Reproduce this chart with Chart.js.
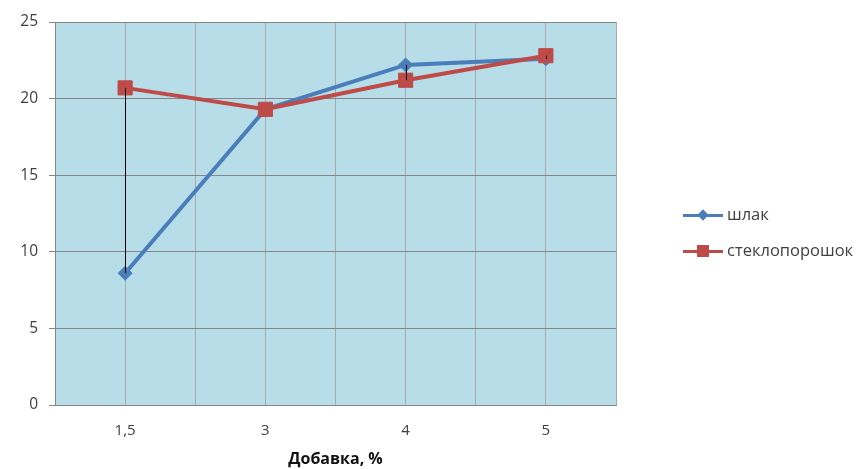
<!DOCTYPE html>
<html>
<head>
<meta charset="utf-8">
<script src="https://cdn.jsdelivr.net/npm/chart.js@4/dist/chart.umd.min.js"></script>
<style>
  html, body { margin: 0; padding: 0; background: #fff; }
  #wrap { position: relative; width: 858px; height: 469px; }
  #chart { position: absolute; left: 0; top: 0; }
  .legend-item { position: absolute; left: 683px; height: 20px; font: 16.5px 'Open Sans', sans-serif; color: #404040; }
  .legend-line { position: absolute; left: 0; top: 9px; width: 40px; height: 3px; }
  .legend-mark { position: absolute; }
  .legend-text { position: absolute; left: 44px; top: -3px; white-space: nowrap; }
</style>
</head>
<body>
<div id="wrap">
  <canvas id="chart" width="858" height="469"></canvas>
  <div class="legend-item" style="top:205px">
    <div class="legend-line" style="background:#4a7ebb"></div>
    <div class="legend-mark" style="left:16px;top:6px;width:8px;height:8px;background:#4a7ebb;transform:rotate(45deg)"></div>
    <div class="legend-text">шлак</div>
  </div>
  <div class="legend-item" style="top:241px">
    <div class="legend-line" style="background:#be4b48"></div>
    <div class="legend-mark" style="left:14px;top:4px;width:12px;height:12px;background:#be4b48"></div>
    <div class="legend-text">стеклопорошок</div>
  </div>
</div>
<script>
// Additive content, %
const categories = ['1,5', '3', '4', '5'];
// Series values
const slag = [8.6, 19.3, 22.2, 22.6];
const glassPowder = [20.7, 19.3, 21.2, 22.8];
// Y-axis ticks
const yTicks = [0, 5, 10, 15, 20, 25];

// Each category sits in the middle of its own cell: 1, 3, 5, ...
const catPos = i => 2 * i + 1;
const toPoints = arr => arr.map((v, i) => ({ x: catPos(i), y: v }));

const plotBackground = {
  id: 'plotBackground',
  beforeDraw(chart) {
    const { ctx, chartArea: a } = chart;
    ctx.save();
    ctx.fillStyle = '#b7dde8';
    ctx.fillRect(a.left, a.top, a.right - a.left, a.bottom - a.top);
    ctx.restore();
  }
};

// Vertical high-low lines joining the two series at each category
const highLowLines = {
  id: 'highLowLines',
  afterDatasetsDraw(chart) {
    const { ctx, scales: { x, y } } = chart;
    ctx.save();
    ctx.strokeStyle = '#000';
    ctx.lineWidth = 1;
    categories.forEach((c, i) => {
      const hi = Math.max(slag[i], glassPowder[i]);
      const lo = Math.min(slag[i], glassPowder[i]);
      if (hi === lo) return;
      const px = Math.round(x.getPixelForValue(catPos(i))) + 0.5;
      ctx.beginPath();
      ctx.moveTo(px, y.getPixelForValue(hi));
      ctx.lineTo(px, y.getPixelForValue(lo));
      ctx.stroke();
    });
    ctx.restore();
  }
};

new Chart(document.getElementById('chart'), {
  type: 'line',
  data: {
    datasets: [
      {
        label: 'шлак',
        data: toPoints(slag),
        borderColor: '#4a7ebb',
        backgroundColor: '#4a7ebb',
        borderWidth: 4,
        pointStyle: 'rectRot',
        pointRadius: 7,
        pointBorderWidth: 1,
        order: 1
      },
      {
        label: 'стеклопорошок',
        data: toPoints(glassPowder),
        borderColor: '#be4b48',
        backgroundColor: '#be4b48',
        borderWidth: 4,
        pointStyle: 'rect',
        pointRadius: 10,
        pointBorderWidth: 1,
        order: 0
      }
    ]
  },
  options: {
    responsive: false,
    animation: false,
    layout: { padding: { top: 22, right: 242, left: 0, bottom: 0 } },
    plugins: { legend: { display: false }, tooltip: { enabled: false } },
    scales: {
      x: {
        type: 'linear',
        min: 0,
        max: 2 * categories.length,
        afterFit(scale) { scale.height = 64; },
        afterBuildTicks(scale) {
          scale.ticks = Array.from({ length: 2 * categories.length + 1 }, (_, k) => ({ value: k }));
        },
        ticks: {
          autoSkip: false,
          maxRotation: 0,
          padding: 17,
          color: '#404040',
          font: { family: "'Open Sans', sans-serif", size: 15 },
          callback: v => (v % 2 === 1 ? categories[(v - 1) / 2] : '')
        },
        grid: { color: '#a9a9a9', drawTicks: false, lineWidth: 1 },
        border: { color: '#868686' },
        title: {
          display: true,
          text: 'Добавка, %',
          color: '#111',
          font: { family: "'Open Sans', sans-serif", size: 16, weight: 'bold' },
          padding: { top: 0, bottom: 0 }
        }
      },
      y: {
        min: 0,
        max: 25,
        afterFit(scale) { scale.width = 55; },
        afterBuildTicks(scale) { scale.ticks = yTicks.map(v => ({ value: v })); },
        ticks: {
          padding: 11,
          color: '#404040',
          font: { family: "'Open Sans', sans-serif", size: 15.5 }
        },
        grid: { color: '#868686', tickLength: 6, lineWidth: 1 },
        border: { color: '#868686' }
      }
    }
  },
  plugins: [plotBackground, highLowLines]
});
</script>
</body>
</html>
